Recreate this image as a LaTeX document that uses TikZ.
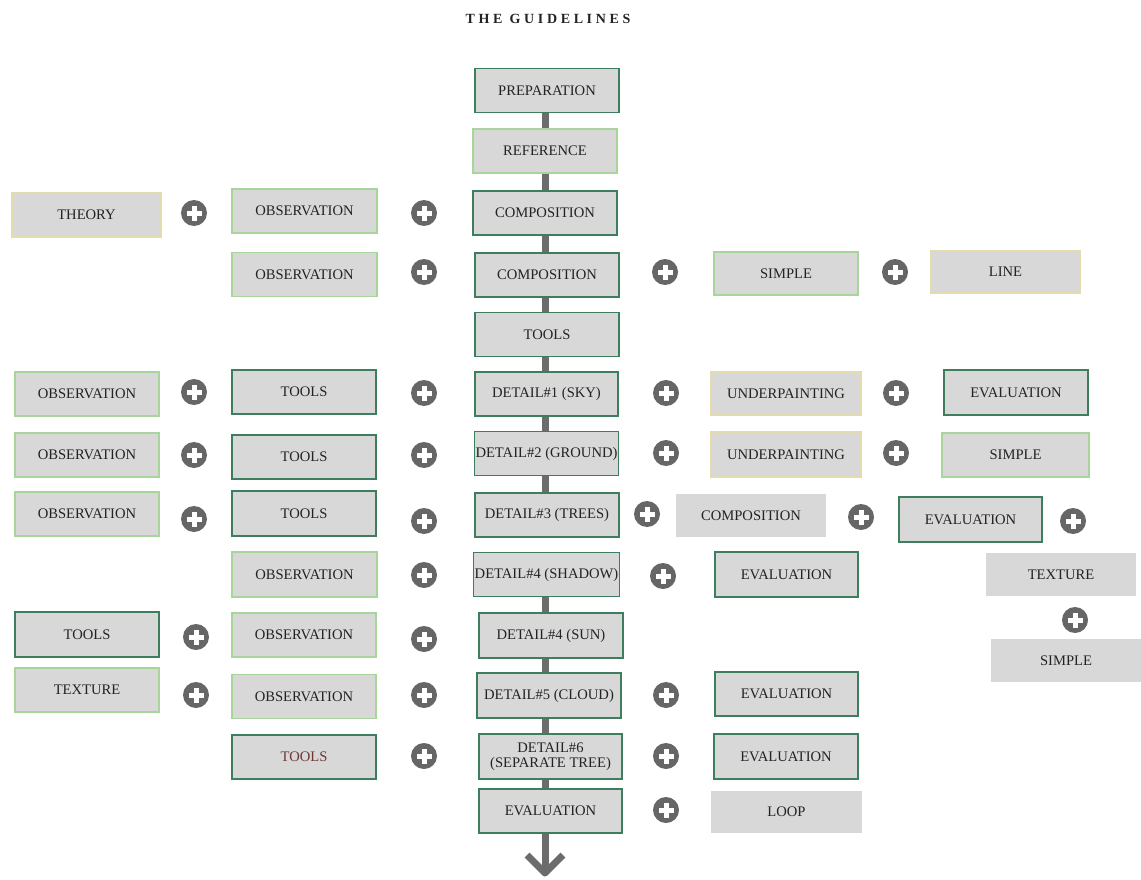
\documentclass[tikz,border=0pt]{standalone}
\usepackage{fontspec}
\setmainfont{Liberation Serif}
\usetikzlibrary{calc}

\definecolor{boxgray}{HTML}{D8D8D8}
\definecolor{dkgreen}{HTML}{3E7E5E}
\definecolor{ltgreen}{HTML}{A8D59C}
\definecolor{khaki}{HTML}{E4DCAE}
\definecolor{linegray}{HTML}{6C6C6C}
\definecolor{plusgray}{HTML}{666666}
\definecolor{inkdark}{HTML}{232323}
\definecolor{inkred}{HTML}{6E3636}

\begin{document}
\begin{tikzpicture}[x=1pt, y=-1pt,
  box/.style={fill=boxgray, minimum width=144pt, minimum height=44pt,
    inner sep=1pt, text=inkdark, align=center,
    font=\fontsize{14.6}{14.6}\selectfont},
  dkbox/.style={box, draw=dkgreen, line width=1.4pt},
  ltbox/.style={box, draw=ltgreen, line width=1.4pt},
  khbox/.style={box, draw=khaki, line width=1.4pt},
  flatbox/.style={box, minimum width=150pt, minimum height=43pt},
  plus/.style={circle, fill=plusgray, minimum size=26pt, inner sep=0pt,
    path picture={
      \fill[white] ($(path picture bounding box.center)+(-7.5pt,-2.5pt)$) rectangle ($(path picture bounding box.center)+(7.5pt,2.5pt)$);
      \fill[white] ($(path picture bounding box.center)+(-2.5pt,-7.5pt)$) rectangle ($(path picture bounding box.center)+(2.5pt,7.5pt)$);
    }},
  flow/.style={draw=linegray, line width=7pt},
  title/.style={font=\fontsize{14}{14}\selectfont\bfseries\addfontfeatures{LetterSpace=26}, text=inkdark}
]
\useasboundingbox (0,0) rectangle (1141,880);

% heading
\node[title] (head) at (548,19) {THE GUIDELINES};

% main column
\node[dkbox] (c1)  at (547,90.5)  {PREPARATION};
\node[ltbox] (c2)  at (545,151)   {REFERENCE};
\node[dkbox] (c3)  at (545,213)   {COMPOSITION};
\node[dkbox] (c4)  at (547,275)   {COMPOSITION};
\node[dkbox] (c5)  at (547,334.5) {TOOLS};
\node[dkbox, minimum width=143pt] (c6)  at (546.5,394)   {DETAIL\#1 (SKY)};
\node[dkbox, minimum width=143pt] (c7)  at (546.5,453.5) {DETAIL\#2 (GROUND)};
\node[dkbox] (c8)  at (547,515)   {DETAIL\#3 (TREES)};
\node[dkbox, minimum width=143pt] (c9)  at (546.5,574.5) {DETAIL\#4 (SHADOW)};
\node[dkbox, minimum height=45pt] (c10) at (551,635.5)   {DETAIL\#4 (SUN)};
\node[dkbox, minimum height=45pt] (c11) at (549,695.5)   {DETAIL\#5 (CLOUD)};
\node[dkbox, minimum width=143pt, minimum height=45pt] (c12) at (550.5,756.5) {DETAIL\#6\\(SEPARATE TREE)};
\node[dkbox, minimum width=143pt] (c13) at (550.5,811)   {EVALUATION};

% spine of the main column
\coordinate (spine) at (545,0);
\foreach \a/\b in {c1/c2,c2/c3,c3/c4,c4/c5,c5/c6,c6/c7,c7/c8,c9/c10,c10/c11,c11/c12,c12/c13}
  \draw[flow] (\a.south -| spine) -- (\b.north -| spine);

% closing arrow
\coordinate (tip) at (545,873);
\draw[flow] (c13.south -| spine) -- (tip);
\draw[flow, line join=round] ($(tip)+(-18,-18)$) -- (tip) -- ($(tip)+(18,-18)$);

% far left column
\node[khbox, minimum width=149pt] (l1) at (86.5,215) {THEORY};
\node[ltbox] (l2) at (87,394)   {OBSERVATION};
\node[ltbox] (l3) at (87,455)   {OBSERVATION};
\node[ltbox] (l4) at (87,514)   {OBSERVATION};
\node[dkbox, minimum height=45pt] (l5) at (87,634.5) {TOOLS};
\node[ltbox] (l6) at (87,690)   {TEXTURE};

\node[plus] (pa1) at (194,213) {};
\node[plus] (pa2) at (194,392) {};
\node[plus] (pa3) at (194,455) {};
\node[plus] (pa4) at (194,519) {};
\node[plus] (pa5) at (196,637) {};
\node[plus] (pa6) at (196,695) {};

% second column
\node[ltbox, minimum width=145pt] (m1) at (304.5,211)   {OBSERVATION};
\node[ltbox, minimum width=145pt] (m2) at (304.5,274.5) {OBSERVATION};
\node[dkbox] (m3) at (304,392)   {TOOLS};
\node[dkbox] (m4) at (304,457)   {TOOLS};
\node[dkbox, minimum height=45pt] (m5) at (304,513.5) {TOOLS};
\node[ltbox, minimum width=145pt, minimum height=45pt] (m6) at (304.5,574.5) {OBSERVATION};
\node[ltbox] (m7) at (304,635)   {OBSERVATION};
\node[ltbox] (m8) at (304,696.5) {OBSERVATION};
\node[dkbox, text=inkred] (m9) at (304,757) {TOOLS};

\node[plus] (pb1) at (424,213) {};
\node[plus] (pb2) at (424,272) {};
\node[plus] (pb3) at (424,393) {};
\node[plus] (pb4) at (424,455) {};
\node[plus] (pb5) at (424,521) {};
\node[plus] (pb6) at (424,575) {};
\node[plus] (pb7) at (424,639) {};
\node[plus] (pb8) at (424,695) {};
\node[plus] (pb9) at (424,756) {};

% third column
\node[plus] (pc1) at (665,272) {};
\node[plus] (pc2) at (666,393) {};
\node[plus] (pc3) at (666,453) {};
\node[plus] (pc4) at (647,514) {};
\node[plus] (pc5) at (663,576) {};
\node[plus] (pc6) at (666,695) {};
\node[plus] (pc7) at (666,756) {};
\node[plus] (pc8) at (666,810) {};

\node[ltbox, minimum height=43pt] (r1) at (786,273.5) {SIMPLE};
\node[khbox, minimum width=150pt, minimum height=43pt] (r2) at (786,393.5) {UNDERPAINTING};
\node[khbox, minimum width=150pt, minimum height=45pt] (r3) at (786,454.5) {UNDERPAINTING};
\node[flatbox] (r4) at (751,515.5) {COMPOSITION};
\node[dkbox, minimum width=143pt, minimum height=45pt] (r5) at (786.5,574.5) {EVALUATION};
\node[dkbox, minimum width=143pt] (r6) at (786.5,694) {EVALUATION};
\node[dkbox, minimum height=45pt] (r7) at (786,756.5) {EVALUATION};
\node[flatbox, minimum width=151pt, minimum height=42pt] (r8) at (786.5,812) {LOOP};

% fourth column
\node[plus] (pd1) at (895,272) {};
\node[plus] (pd2) at (896,393) {};
\node[plus] (pd3) at (896,453) {};
\node[plus] (pd4) at (861,517) {};

\node[khbox, minimum width=149pt, minimum height=42pt] (s1) at (1005.5,272) {LINE};
\node[dkbox, minimum height=45pt] (s2) at (1016,392.5) {EVALUATION};
\node[ltbox, minimum width=147pt] (s3) at (1015.5,455) {SIMPLE};
\node[dkbox, minimum width=143pt, minimum height=45pt] (s4) at (970.5,519.5) {EVALUATION};

% far right stack
\node[plus] (pe1) at (1073,521) {};
\node[flatbox] (t1) at (1061,574.5) {TEXTURE};
\node[plus] (pe2) at (1075,620) {};
\node[flatbox] (t2) at (1066,660.5) {SIMPLE};
\end{tikzpicture}
\end{document}
